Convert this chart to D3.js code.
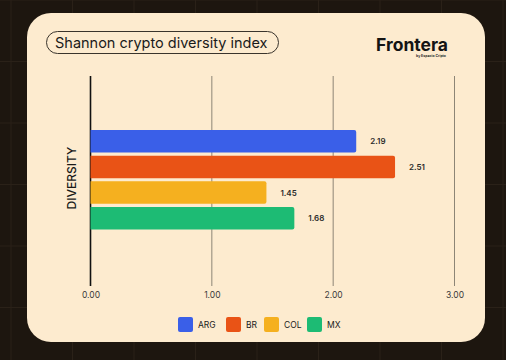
<!DOCTYPE html>
<html>
<head>
<meta charset="utf-8">
<script src="https://cdn.jsdelivr.net/npm/d3@7"></script>
<style>
  html, body { margin: 0; padding: 0; background: #1d160f; }
  svg { display: block; font-family: Inter, "Noto Sans", sans-serif; }
</style>
</head>
<body>
<div id="chart"></div>
<script>
var countries = ["ARG", "BR", "COL", "MX"];
var diversity = [2.19, 2.51, 1.45, 1.68];
var colors = ["#3a5fe8", "#e95316", "#f5b01f", "#1dbb74"];
var tickValues = [0, 1, 2, 3];

var width = 506, height = 360;

var svg = d3.select("#chart").append("svg")
    .attr("width", width)
    .attr("height", height);

// fondo oscuro con rejilla
svg.append("rect").attr("width", width).attr("height", height).attr("fill", "#1d160f");
var bg = svg.append("g").attr("stroke", "#2a2118").attr("stroke-width", 1);
d3.range(11, width, 61.5).forEach(function(x) {
    bg.append("line").attr("x1", x).attr("x2", x).attr("y1", 0).attr("y2", height);
});
d3.range(0, height, 61.5).forEach(function(y) {
    bg.append("line").attr("x1", 0).attr("x2", width).attr("y1", y).attr("y2", y);
});

// tarjeta
svg.append("rect")
    .attr("x", 27).attr("y", 13)
    .attr("width", 458).attr("height", 329)
    .attr("rx", 24)
    .attr("fill", "#fdebcf");

// titulo
svg.append("rect")
    .attr("x", 46.5).attr("y", 31.5)
    .attr("width", 232).attr("height", 22)
    .attr("rx", 11)
    .attr("fill", "none")
    .attr("stroke", "#3a342c")
    .attr("stroke-width", 1);

svg.append("text")
    .attr("x", 55).attr("y", 48)
    .attr("font-size", 14.5)
    .attr("fill", "#1a1a1a")
    .text("Shannon crypto diversity index");

svg.append("text")
    .attr("x", 448).attr("y", 51)
    .attr("text-anchor", "end")
    .attr("font-size", 17.5)
    .attr("font-weight", 700)
    .attr("fill", "#141414")
    .text("Frontera");

svg.append("text")
    .attr("x", 446).attr("y", 57)
    .attr("text-anchor", "end")
    .attr("font-size", 3.5)
    .attr("font-weight", 700)
    .attr("fill", "#333")
    .text("by Espacio Cripto");

// escalas
var x = d3.scaleLinear().domain([0, 3]).range([90.5, 454.5]);
var y = d3.scaleBand().domain(countries).range([130, 229.5]).paddingInner(0.12).paddingOuter(0);

// rejilla vertical
var grid = svg.append("g");
grid.selectAll("line")
    .data(tickValues)
    .enter().append("line")
    .attr("x1", function(d) { return x(d); })
    .attr("x2", function(d) { return x(d); })
    .attr("y1", 76)
    .attr("y2", 286)
    .attr("stroke", function(d) { return d == 0 ? "#111" : "#8d8576"; })
    .attr("stroke-width", function(d) { return d == 0 ? 1.6 : 1; });

// eje x
var xAxis = d3.axisBottom(x)
    .tickValues(tickValues)
    .tickFormat(d3.format(".2f"))
    .tickSize(0)
    .tickPadding(0);

var gx = svg.append("g")
    .attr("transform", "translate(0,292)")
    .call(xAxis);
gx.select(".domain").remove();
gx.selectAll("text")
    .attr("font-family", "Inter, sans-serif")
    .attr("font-size", 8.5)
    .attr("fill", "#3a3a3a");

// barras
var data = countries.map(function(c, i) {
    return { pais: c, valor: diversity[i], color: colors[i] };
});

var r = 2;
svg.selectAll(".bar")
    .data(data)
    .enter().append("path")
    .attr("class", "bar")
    .attr("d", function(d) {
        var x0 = x(0), x1 = x(d.valor), y0 = y(d.pais), h = y.bandwidth();
        return "M" + x0 + "," + y0 +
            "H" + (x1 - r) +
            "Q" + x1 + "," + y0 + " " + x1 + "," + (y0 + r) +
            "V" + (y0 + h - r) +
            "Q" + x1 + "," + (y0 + h) + " " + (x1 - r) + "," + (y0 + h) +
            "H" + x0 + "Z";
    })
    .attr("fill", function(d) { return d.color; });

svg.selectAll(".label")
    .data(data)
    .enter().append("text")
    .attr("class", "label")
    .attr("x", function(d) { return x(d.valor) + 14; })
    .attr("y", function(d) { return y(d.pais) + y.bandwidth() / 2 + 3; })
    .attr("font-size", 8)
    .attr("font-weight", 600)
    .attr("fill", "#2b2b2b")
    .text(function(d) { return d.valor.toFixed(2); });

// etiqueta eje y
svg.append("text")
    .attr("transform", "translate(76,178) rotate(-90)")
    .attr("text-anchor", "middle")
    .attr("font-size", 12)
    .attr("font-weight", 500)
    .attr("fill", "#1a1a1a")
    .text("DIVERSITY");

// leyenda
var legendX = [178, 226, 264, 307];
var legend = svg.selectAll(".legend")
    .data(data)
    .enter().append("g")
    .attr("class", "legend")
    .attr("transform", function(d, i) { return "translate(" + legendX[i] + ",317)"; });

legend.append("rect")
    .attr("width", 15).attr("height", 15)
    .attr("rx", 2)
    .attr("fill", function(d) { return d.color; });

legend.append("text")
    .attr("x", 20).attr("y", 11)
    .attr("font-size", 8.5)
    .attr("fill", "#1a1a1a")
    .text(function(d) { return d.pais; });
</script>
</body>
</html>
